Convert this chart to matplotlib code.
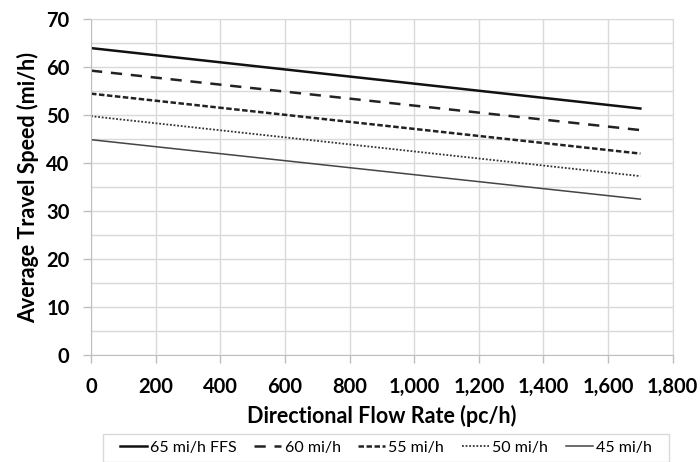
import matplotlib
matplotlib.use("Agg")
import matplotlib.pyplot as plt
from matplotlib.ticker import MultipleLocator, FuncFormatter
from matplotlib.patches import Rectangle

flow = [0, 1700]
s65 = [64.0, 51.4]
s60 = [59.3, 46.9]
s55 = [54.5, 42.0]
s50 = [49.8, 37.3]
s45 = [44.9, 32.5]
labels = ["65 mi/h FFS", "60 mi/h", "55 mi/h", "50 mi/h", "45 mi/h"]

plt.rcParams['font.family'] = ['Lato', 'DejaVu Sans']

fig = plt.figure(figsize=(7.0, 4.62), dpi=100)
ax = fig.add_axes([0.13, 0.2316, 0.831, 0.7266])

ax.plot(flow, s65, color='#111111', lw=1.8, ls='-', label=labels[0])
ax.plot(flow, s60, color='#222222', lw=1.8, ls=(0, (4.5, 3.5)), label=labels[1])
ax.plot(flow, s55, color='#222222', lw=1.8, ls=(0, (2.2, 1.0)), label=labels[2])
ax.plot(flow, s50, color='#333333', lw=1.3, ls=(0, (1.0, 1.0)), label=labels[3])
ax.plot(flow, s45, color='#444444', lw=1.1, ls='-', label=labels[4])

ax.set_xlim(0, 1800)
ax.set_ylim(0, 70)
ax.xaxis.set_major_locator(MultipleLocator(200))
ax.yaxis.set_major_locator(MultipleLocator(10))
ax.yaxis.set_minor_locator(MultipleLocator(5))
ax.xaxis.set_major_formatter(FuncFormatter(lambda v, p: f"{int(v):,}"))
ax.grid(True, which='both', axis='y', color='#d9d9d9', lw=1.0)
ax.grid(True, which='major', axis='x', color='#d9d9d9', lw=1.0)
ax.set_axisbelow(True)
for sp in ['top', 'right']:
    ax.spines[sp].set_color('#d9d9d9')
for sp in ['left', 'bottom']:
    ax.spines[sp].set_color('#bfbfbf')
ax.tick_params(axis='both', which='minor', length=0)
ax.tick_params(axis='both', which='major', length=5.5, width=1.0, color='#bfbfbf',
               direction='out', labelsize=14.5, pad=10)
for t in ax.get_xticklabels() + ax.get_yticklabels():
    t.set_fontweight('bold')
ax.set_xlabel("Directional Flow Rate (pc/h)", fontsize=15.5, fontweight='bold', labelpad=6)
ax.set_ylabel("Average Travel Speed (mi/h)", fontsize=15.5, fontweight='bold', labelpad=5)

leg = fig.legend(loc='lower center', bbox_to_anchor=(0.551, -0.012), ncol=5,
                 fontsize=11.5, frameon=False,
                 handlelength=1.7, handletextpad=0.2, columnspacing=1.1,
                 borderpad=0.3)

fig.canvas.draw()
bb = leg.get_window_extent().transformed(fig.transFigure.inverted())
padx = 12 / 700
pady = 2 / 462
fig.patches.append(Rectangle((bb.x0 - padx, bb.y0 - pady), bb.width + 2 * padx, bb.height + 2 * pady,
                             transform=fig.transFigure, fill=False, edgecolor='#d9d9d9', lw=1.0))

fig.savefig("out.png", dpi=100)
